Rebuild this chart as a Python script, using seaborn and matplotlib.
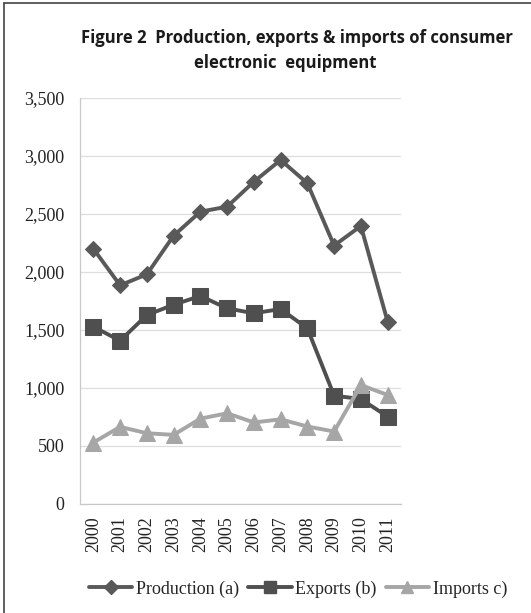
import matplotlib
matplotlib.use("Agg")
import matplotlib.pyplot as plt
from matplotlib.lines import Line2D
import seaborn as sns
import pandas as pd

years = ["2000", "2001", "2002", "2003", "2004", "2005",
         "2006", "2007", "2008", "2009", "2010", "2011"]
production = [2200, 1885, 1980, 2313, 2520, 2563, 2778, 2966, 2765, 2228, 2397, 1572]
exports = [1528, 1408, 1629, 1718, 1793, 1687, 1644, 1681, 1514, 934, 905, 753]
imports = [530, 665, 610, 596, 736, 782, 703, 730, 668, 625, 1025, 940]

series_names = ["Production (a)", "Exports (b)", "Imports c)"]
colors = {"Production (a)": "#595959", "Exports (b)": "#4f4f4f", "Imports c)": "#a6a6a6"}
markers = {"Production (a)": "D", "Exports (b)": "s", "Imports c)": "^"}
msizes = {"Production (a)": 8.5, "Exports (b)": 11, "Imports c)": 11}

rows = []
for name, vals in zip(series_names, [production, exports, imports]):
    for i, v in enumerate(vals):
        rows.append({"idx": i, "value": v, "series": name})
df = pd.DataFrame(rows)

sns.set_theme(style="white")
plt.rcParams["font.family"] = ["Liberation Serif", "DejaVu Serif"]

fig = plt.figure(figsize=(5.31, 6.13), dpi=100)
ax = fig.add_axes([80 / 531, 1 - 504 / 613, 321 / 531, 406 / 613])

for name in series_names:
    sub = df[df["series"] == name]
    sns.lineplot(data=sub, x="idx", y="value", ax=ax, color=colors[name],
                 marker=markers[name], markersize=msizes[name],
                 markeredgecolor=colors[name], linewidth=2.8, legend=False)

ax.set_xlim(-0.5, len(years) - 0.5)
ax.set_ylim(0, 3500)
ax.set_yticks(range(0, 3501, 500))
ax.set_yticklabels([f"{v:,}" for v in range(0, 3501, 500)], fontsize=13)
ax.set_xticks(range(len(years)))
ax.set_xticklabels(years, rotation=90, fontsize=13)
ax.set_xticks([i - 0.5 for i in range(len(years) + 1)], minor=True)
ax.tick_params(axis="x", which="major", length=0, pad=9, labelcolor="#222222")
ax.tick_params(axis="x", which="minor", length=5, width=0.8, color="#c8c8c8", direction="out")
ax.tick_params(axis="y", length=5, width=0.8, color="#c8c8c8", direction="out", pad=6,
               labelcolor="#222222")
ax.set_xlabel("")
ax.set_ylabel("")
ax.grid(axis="y", color="#dedede", linewidth=0.9)
ax.set_axisbelow(True)
for side in ["top", "right"]:
    ax.spines[side].set_visible(False)
for side in ["left", "bottom"]:
    ax.spines[side].set_color("#c8c8c8")
    ax.spines[side].set_linewidth(0.9)

title_font = dict(ha="center", va="center", fontsize=12, fontweight="bold",
                  family=["Open Sans", "DejaVu Sans"], color="#1a1a1a")
fig.text(297 / 531, 1 - 38 / 613, "Figure 2  Production, exports & imports of consumer",
         **title_font)
fig.text(285 / 531, 1 - 63 / 613, "electronic  equipment", **title_font)

handles = [Line2D([0], [0], color=colors[n], marker=markers[n], markersize=msizes[n] * 0.85,
                  markeredgecolor=colors[n], linewidth=2.8) for n in series_names]
fig.legend(handles, series_names, loc="center", bbox_to_anchor=(298 / 531, 1 - 589 / 613),
           ncol=3, frameon=False, fontsize=13, handlelength=2.4, handletextpad=0.2,
           columnspacing=0.5, borderpad=0, borderaxespad=0)

# frame lines along the top and left edges
fig.add_artist(Line2D([4 / 531, 4 / 531], [0, 1 - 3 / 613], transform=fig.transFigure,
                      color="#444444", linewidth=1.2))
fig.add_artist(Line2D([4 / 531, 1], [1 - 3 / 613, 1 - 3 / 613], transform=fig.transFigure,
                      color="#444444", linewidth=1.2))

fig.savefig("out.png", dpi=100)
